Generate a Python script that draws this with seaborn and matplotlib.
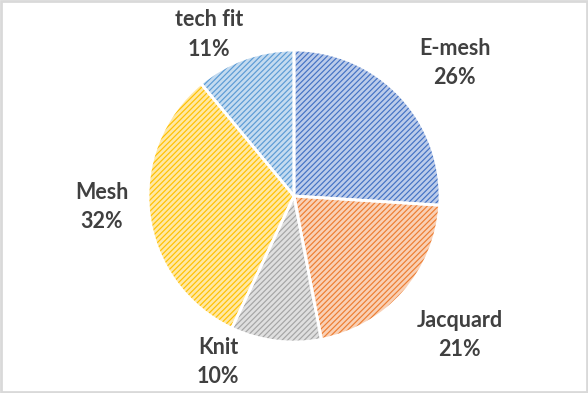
import numpy as np
import matplotlib
matplotlib.use("Agg")
import matplotlib.pyplot as plt
import seaborn as sns
from matplotlib.patches import Rectangle

# ---- data ----
categories = ["E-mesh", "Jacquard", "Knit", "Mesh", "tech fit"]
shares = [26, 21, 10, 32, 11]
base_colors = ["#4472C4", "#ED7D31", "#A5A5A5", "#FFC000", "#5B9BD5"]

sns.set_theme(style="white")
plt.rcParams["font.family"] = ["Lato", "DejaVu Sans"]
plt.rcParams["hatch.linewidth"] = 0.85

palette = sns.color_palette(base_colors)
tints = [tuple(1 - 0.36 * (1 - np.array(c))) for c in palette]

W, H = 588, 393
fig = plt.figure(figsize=(W / 100, H / 100), dpi=100)
fig.patch.set_facecolor("white")
ax = fig.add_axes([0, 0, 1, 1])
R = 146.0
cx, cy = 294.0, 393 - 196.0

wedges, _ = ax.pie(shares, colors=tints, startangle=90, counterclock=False,
                   radius=1.0, wedgeprops=dict(linewidth=0))
for w, c in zip(wedges, palette):
    w.set_hatch("//////")
    w.set_edgecolor(c)
    w.set_linewidth(0)
ax.pie(shares, colors=["none"] * len(shares), startangle=90, counterclock=False,
       radius=1.0, wedgeprops=dict(linewidth=2.0, edgecolor="white", facecolor="none"))
ax.set_xlim(-cx / R, (W - cx) / R)
ax.set_ylim(-cy / R, (H - cy) / R)
ax.set_aspect("auto")
ax.axis("off")

# label placement (radial factor, angle tweak in degrees)
placement = [(1.43, -3.6), (1.48, 1.4), (1.25, -17.4), (1.32, -4), (1.25, 8)]
cum = np.cumsum([0] + shares)
for i, (name, v) in enumerate(zip(categories, shares)):
    mid = (cum[i] + cum[i + 1]) / 2 / sum(shares)
    ang = np.deg2rad(90 - 360 * mid + placement[i][1])
    r = placement[i][0]
    ax.text(r * np.cos(ang), r * np.sin(ang), f"{name}\n{v}%", ha="center", va="center",
            fontsize=15.5, fontweight="bold", color="#404040", linespacing=1.5)

fig.patches.append(Rectangle((0.001, 0.002), 0.997, 0.995, transform=fig.transFigure,
                             fill=False, edgecolor="#D9D9D9", linewidth=2))
fig.savefig("out.png", dpi=100)
